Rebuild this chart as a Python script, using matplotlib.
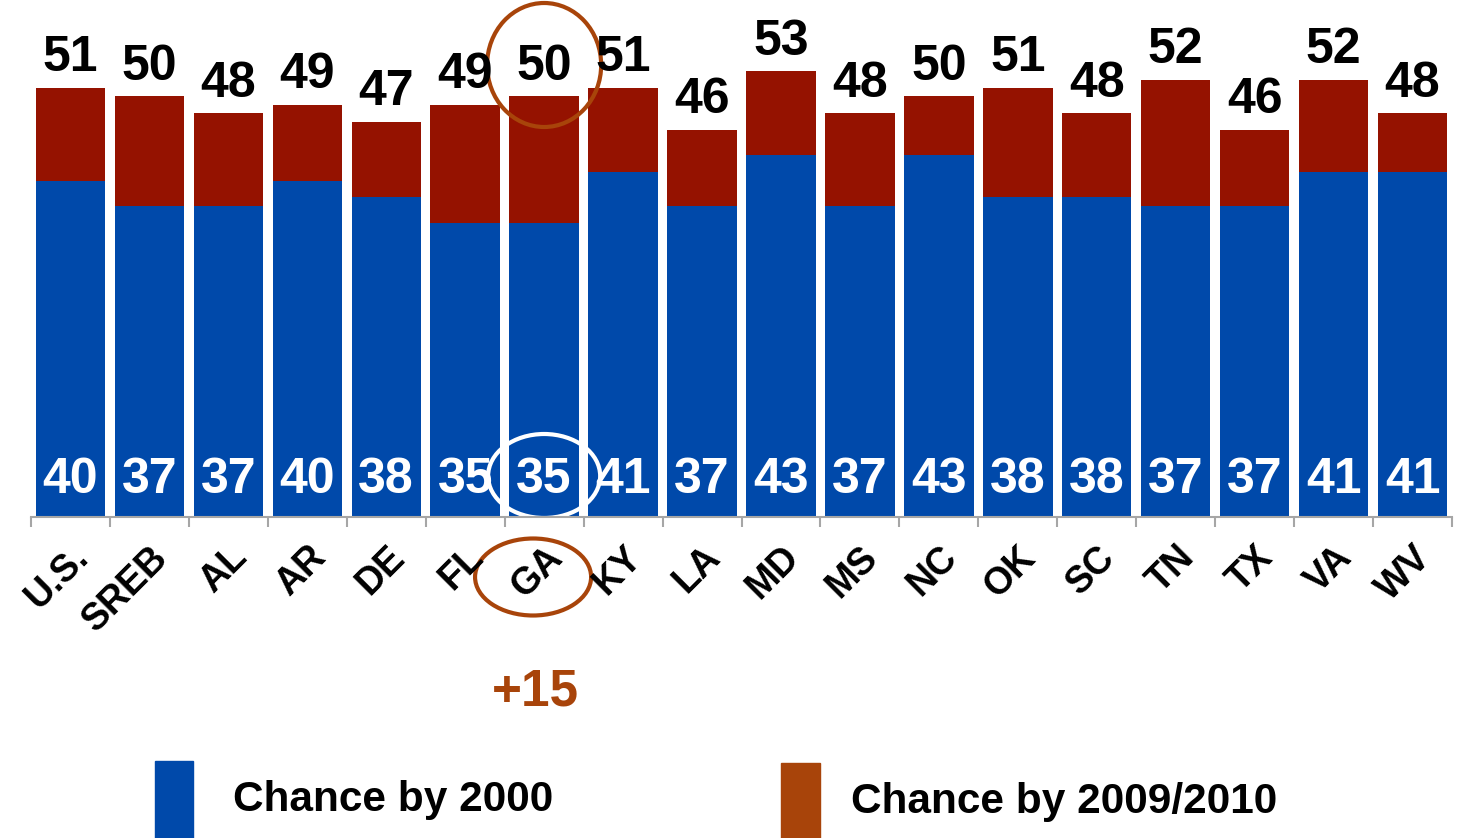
import matplotlib.pyplot as plt
from matplotlib.patches import Ellipse, Rectangle

plt.rcParams['font.family'] = ['Liberation Sans', 'DejaVu Sans']
plt.rcParams['font.weight'] = 'bold'

states = ["U.S.", "SREB", "AL", "AR", "DE", "FL", "GA", "KY", "LA", "MD",
          "MS", "NC", "OK", "SC", "TN", "TX", "VA", "WV"]
chance_2000 = [40, 37, 37, 40, 38, 35, 35, 41, 37, 43, 37, 43, 38, 38, 37, 37, 41, 41]
chance_2010 = [51, 50, 48, 49, 47, 49, 50, 51, 46, 53, 48, 50, 51, 48, 52, 46, 52, 48]

blue = "#0049AA"
red = "#951200"
brown = "#A8440A"

W, H = 1458, 838
fig = plt.figure(figsize=(W / 100, H / 100), dpi=100)
ax = fig.add_axes([31 / W, 1 - 517 / H, (1452 - 31) / W, 517 / H])

x = list(range(len(states)))
gain = [b - a for a, b in zip(chance_2000, chance_2010)]
ax.bar(x, chance_2000, width=0.88, color=blue)
ax.bar(x, gain, bottom=chance_2000, width=0.88, color=red)

ax.set_xlim(-0.5, len(states) - 0.5)
ax.set_ylim(0, 517 / 8.41)

for i in x:
    ax.text(i, chance_2010[i] + 0.8, str(chance_2010[i]), ha="center", va="bottom",
            fontsize=36, fontweight="bold", color="black", clip_on=False)
    ax.text(i, 4.4, str(chance_2000[i]), ha="center", va="center",
            fontsize=36, fontweight="bold", color="white")

for s in ["top", "right", "left"]:
    ax.spines[s].set_visible(False)
ax.spines["bottom"].set_color("#A6A6A6")
ax.spines["bottom"].set_linewidth(1.5)
ax.set_yticks([])
ax.set_xticks([i - 0.5 for i in range(len(states) + 1)], minor=True)
ax.tick_params(axis="x", which="minor", length=7, width=1.5, color="#A6A6A6")
ax.set_xticks(x)
ax.set_xticklabels(states, rotation=45, ha="right", va="top",
                   rotation_mode="anchor", fontsize=27, fontweight="bold")
ax.tick_params(axis="x", which="major", length=0, pad=16)

# highlight GA
gi = states.index("GA")
ax.add_patch(Ellipse((gi, (517 - 65) / 8.41), 114 / 78.9, 124 / 8.41, fill=False,
                     ec=brown, lw=3, clip_on=False))
ax.add_patch(Ellipse((gi, (517 - 476) / 8.41), 112 / 78.9, 84 / 8.41, fill=False,
                     ec="white", lw=3, clip_on=False))
ax.add_patch(Ellipse((gi - 0.14, (517 - 577) / 8.41), 116 / 78.9, 77 / 8.41, fill=False,
                     ec=brown, lw=3, clip_on=False))
fig.text(535 / W, 1 - 692 / H, "+15", ha="center", va="center", fontsize=37,
         fontweight="bold", color=brown)

# legend
fig.add_artist(Rectangle((155 / W, 0), 38 / W, (H - 761) / H, transform=fig.transFigure,
                         color=blue))
fig.text(233 / W, 1 - 800 / H, "Chance by 2000", ha="left", va="center",
         fontsize=30.5, fontweight="bold")
fig.add_artist(Rectangle((781 / W, 0), 39 / W, (H - 763) / H, transform=fig.transFigure,
                         color=brown))
fig.text(851 / W, 1 - 802 / H, "Chance by 2009/2010", ha="left", va="center",
         fontsize=30.5, fontweight="bold")

fig.savefig("out.png", dpi=100)
